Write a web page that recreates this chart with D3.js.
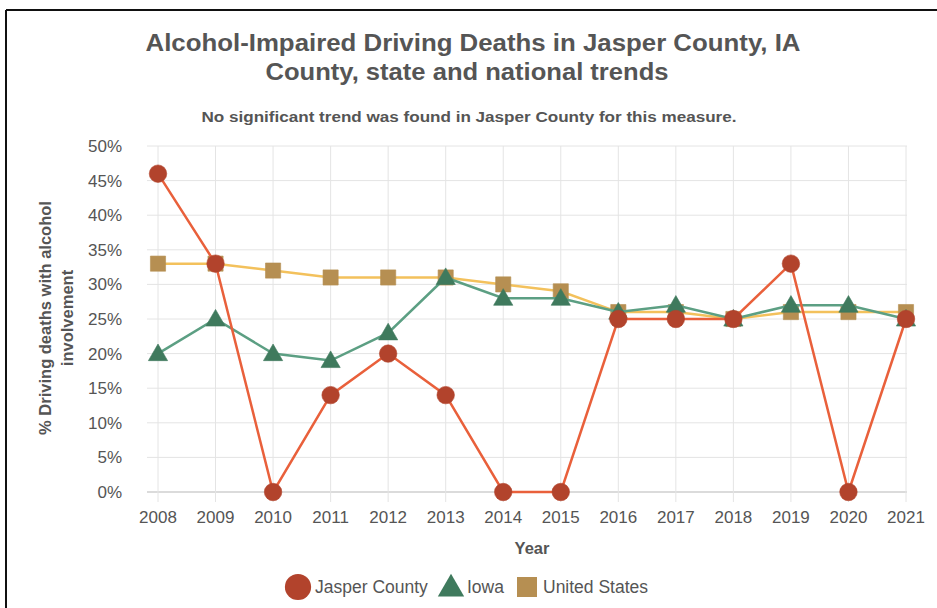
<!DOCTYPE html>
<html>
<head>
<meta charset="utf-8">
<script src="https://cdn.jsdelivr.net/npm/d3@7"></script>
<style>
  html, body { margin: 0; padding: 0; background: #fff; }
  svg { display: block; font-family: "Liberation Sans", Arial, sans-serif; }
</style>
</head>
<body>
<svg id="chart" width="937" height="608"></svg>
<script>
// Years shown on the x axis
const years = [2008, 2009, 2010, 2011, 2012, 2013, 2014, 2015, 2016, 2017, 2018, 2019, 2020, 2021];

// Percent of driving deaths with alcohol involvement
const jasperValues = [46, 33, 0, 14, 20, 14, 0, 0, 25, 25, 25, 33, 0, 25];
const iowaValues   = [20, 25, 20, 19, 23, 31, 28, 28, 26, 27, 25, 27, 27, 25];
const usValues     = [33, 33, 32, 31, 31, 31, 30, 29, 26, 26, 25, 26, 26, 26];

// Y axis tick values (percent)
const yTicks = [0, 5, 10, 15, 20, 25, 30, 35, 40, 45, 50];

const seriesNames = ["Jasper County", "Iowa", "United States"];

const svg = d3.select("#chart");
const W = 937, H = 608;

// frame (top and left edges)
svg.append("line").attr("x1", 6).attr("x2", W).attr("y1", 10).attr("y2", 10)
  .attr("stroke", "#111").attr("stroke-width", 2);
svg.append("line").attr("x1", 6).attr("x2", 6).attr("y1", 10).attr("y2", H)
  .attr("stroke", "#111").attr("stroke-width", 2);

const x = d3.scalePoint().domain(years).range([158, 906]);
const y = d3.scaleLinear().domain([0, 50]).range([492, 146]);

const g = svg.append("g");

// horizontal grid
g.selectAll("line.hgrid").data(yTicks).join("line")
  .attr("class", "hgrid")
  .attr("x1", 147).attr("x2", 907)
  .attr("y1", d => y(d)).attr("y2", d => y(d))
  .attr("stroke", d => d === 0 ? "#cfcfcf" : "#e4e4e4")
  .attr("stroke-width", d => d === 0 ? 1.5 : 1);

// vertical grid with tick extension below the baseline
g.selectAll("line.vgrid").data(years).join("line")
  .attr("class", "vgrid")
  .attr("x1", d => x(d)).attr("x2", d => x(d))
  .attr("y1", y(50)).attr("y2", y(0) + 10)
  .attr("stroke", "#e4e4e4").attr("stroke-width", 1);

// y tick labels
g.selectAll("text.ylab").data(yTicks).join("text")
  .attr("class", "ylab")
  .attr("x", 122).attr("y", d => y(d) + 6)
  .attr("text-anchor", "end")
  .attr("font-size", 17).attr("fill", "#555")
  .text(d => d + "%");

// x tick labels
g.selectAll("text.xlab").data(years).join("text")
  .attr("class", "xlab")
  .attr("x", d => x(d)).attr("y", 523)
  .attr("text-anchor", "middle")
  .attr("font-size", 17).attr("fill", "#555")
  .text(d => d);

// axis titles
svg.append("text").attr("x", 532).attr("y", 554)
  .attr("text-anchor", "middle").attr("font-size", 16.5).attr("font-weight", "bold")
  .attr("fill", "#555").text("Year");

const yt = svg.append("text")
  .attr("transform", "translate(51,318) rotate(-90)")
  .attr("text-anchor", "middle").attr("font-size", 16.5).attr("font-weight", "bold")
  .attr("fill", "#555");
yt.append("tspan").attr("x", 0).attr("dy", 0).text("% Driving deaths with alcohol");
yt.append("tspan").attr("x", 0).attr("dy", 22).text("involvement");

// titles
svg.append("text").attr("x", 473).attr("y", 51)
  .attr("text-anchor", "middle").attr("font-size", 23).attr("font-weight", "bold")
  .attr("fill", "#555").attr("textLength", 655).attr("lengthAdjust", "spacingAndGlyphs")
  .text("Alcohol-Impaired Driving Deaths in Jasper County, IA");
svg.append("text").attr("x", 467).attr("y", 80)
  .attr("text-anchor", "middle").attr("font-size", 23).attr("font-weight", "bold")
  .attr("fill", "#555").attr("textLength", 403).attr("lengthAdjust", "spacingAndGlyphs")
  .text("County, state and national trends");
svg.append("text").attr("x", 469).attr("y", 122)
  .attr("text-anchor", "middle").attr("font-size", 14.5).attr("font-weight", "bold")
  .attr("fill", "#555").attr("textLength", 535).attr("lengthAdjust", "spacingAndGlyphs")
  .text("No significant trend was found in Jasper County for this measure.");

// series definitions
const series = [
  { name: seriesNames[2], values: usValues, line: "#f3c15c", mark: "#b68f52", shape: "square" },
  { name: seriesNames[1], values: iowaValues, line: "#5c9f83", mark: "#3f7a5d", shape: "triangle" },
  { name: seriesNames[0], values: jasperValues, line: "#e9603b", mark: "#b2432c", shape: "circle" }
];

const lineGen = d3.line().x(d => x(d.year)).y(d => y(d.value));

function symbolPath(shape, size) {
  const type = shape === "circle" ? d3.symbolCircle : shape === "triangle" ? d3.symbolTriangle : d3.symbolSquare;
  return d3.symbol().type(type).size(size)();
}

series.forEach(s => {
  const pts = years.map((yr, i) => ({ year: yr, value: s.values[i] }));
  const sg = svg.append("g");
  sg.append("path").datum(pts)
    .attr("d", lineGen)
    .attr("fill", "none")
    .attr("stroke", s.line)
    .attr("stroke-width", 2.5);
  const size = s.shape === "circle" ? 240 : s.shape === "triangle" ? 160 : 230;
  sg.selectAll("path.pt").data(pts).join("path")
    .attr("class", "pt")
    .attr("transform", d => `translate(${x(d.year)},${y(d.value) + (s.shape === "triangle" ? 1.5 : 0)})`)
    .attr("d", symbolPath(s.shape, size))
    .attr("fill", s.mark)
    .attr("stroke", s.mark)
    .attr("stroke-opacity", 0.6)
    .attr("stroke-width", 1);
});

// legend
const legendItems = [
  { name: seriesNames[0], shape: "circle", color: "#b2432c", sx: 298, tx: 315, size: 540 },
  { name: seriesNames[1], shape: "triangle", color: "#3f7a5d", sx: 451, tx: 467, size: 300 },
  { name: seriesNames[2], shape: "square", color: "#b68f52", sx: 527, tx: 543, size: 400 }
];
const lg = svg.append("g");
legendItems.forEach(it => {
  lg.append("path")
    .attr("transform", `translate(${it.sx},${587 + (it.shape === "triangle" ? 2 : 0)})`)
    .attr("d", symbolPath(it.shape, it.size))
    .attr("fill", it.color);
  lg.append("text").attr("x", it.tx).attr("y", 593)
    .attr("font-size", 17.5).attr("fill", "#555").text(it.name);
});
</script>
</body>
</html>
